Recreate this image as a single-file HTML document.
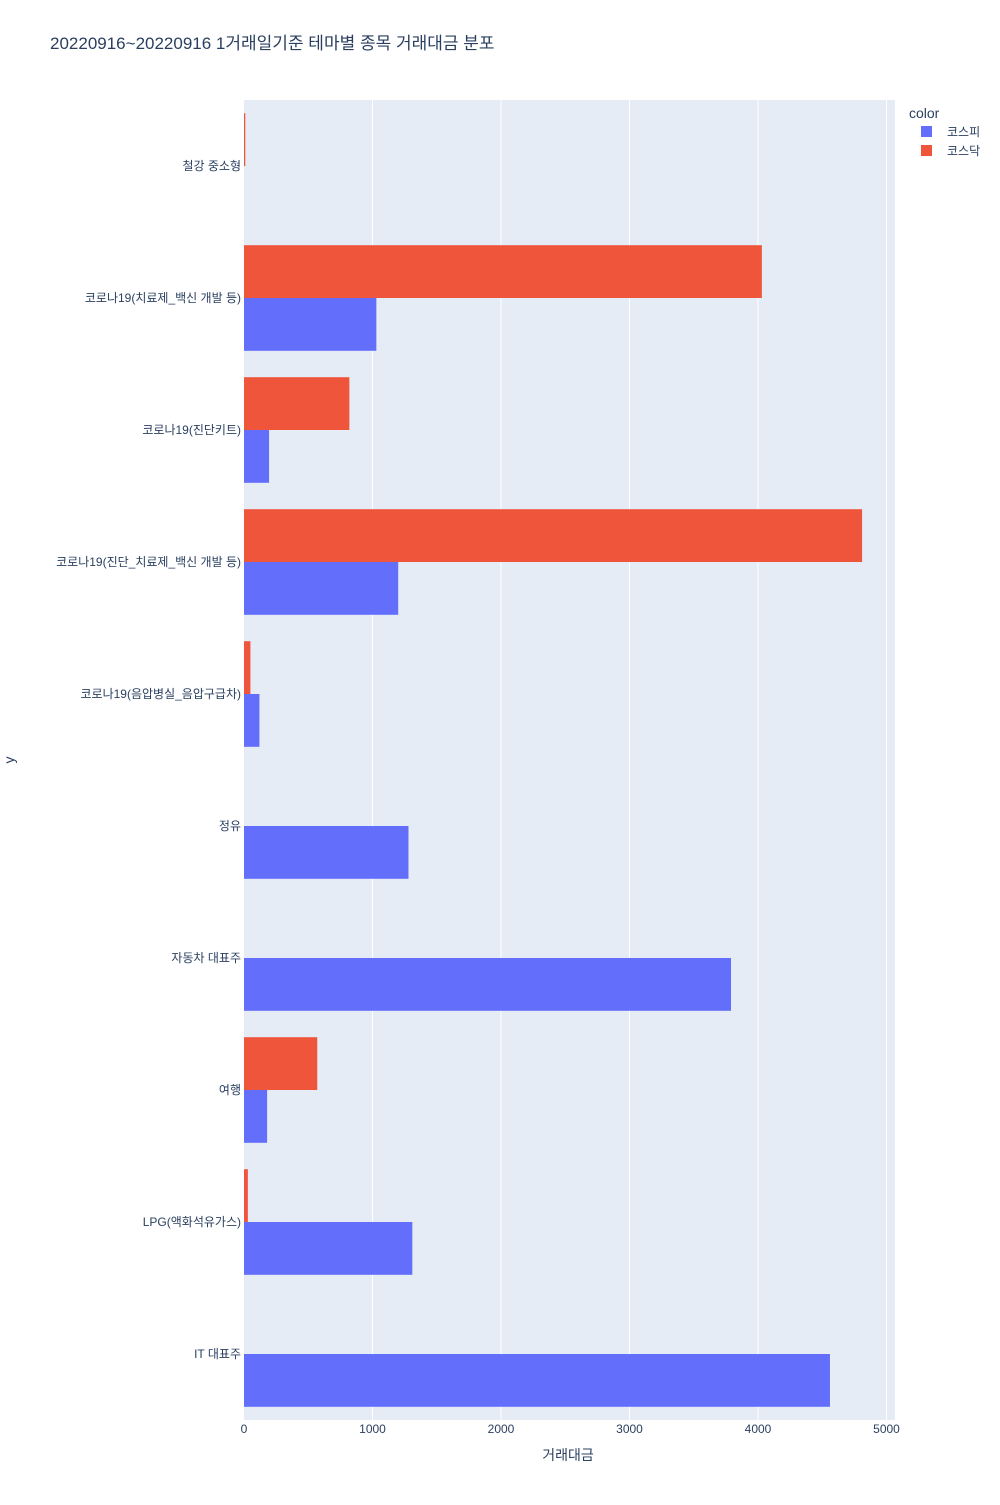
<!DOCTYPE html>
<html><head><meta charset="utf-8"><style>
body{margin:0;background:#fff;}
svg text{font-family:"Liberation Sans","Noto Sans CJK KR",sans-serif;fill:#2a3f5f;}
</style></head><body>
<svg id="chart" width="1000" height="1500">
<text x="50" y="49" font-size="17">20220916~20220916 1거래일기준 테마별 종목 거래대금 분포</text>
<rect x="244" y="100" width="651" height="1320" fill="#e5ecf6"/>
<g id="grid"></g><g id="bars"></g><g id="yticks"></g><g id="xticks"></g>
<text x="568" y="1460" font-size="14" text-anchor="middle">거래대금</text>
<text x="14" y="760" font-size="14" text-anchor="middle" transform="rotate(-90 14 760)">y</text>
<g>
<text x="909" y="118" font-size="14">color</text>
<g><rect x="921" y="126" width="11" height="11" fill="#636efa"/><text x="947" y="136" font-size="12">코스피</text></g>
<g><rect x="921" y="145" width="11" height="11" fill="#ef553b"/><text x="947" y="155" font-size="12">코스닥</text></g>
</g>
</svg>
<script>
const categories=["철강 중소형","코로나19(치료제_백신 개발 등)","코로나19(진단키트)","코로나19(진단_치료제_백신 개발 등)","코로나19(음압병실_음압구급차)","정유","자동차 대표주","여행","LPG(액화석유가스)","IT 대표주"];
const kospi=[0,1030,195,1200,120,1280,3790,180,1310,4560];
const kosdaq=[10,4030,820,4810,50,0,0,570,30,0];
const xTicks=[0,1000,2000,3000,4000,5000];
const NS="http://www.w3.org/2000/svg";
const x0=244,xScale=128.5/1000,y0=100,band=132,bw=52.8;
const X=v=>x0+v*xScale;
const Yc=i=>y0+band*i+band/2;
function mk(t,a,p){const e=document.createElementNS(NS,t);for(const k in a)e.setAttribute(k,a[k]);document.getElementById(p).appendChild(e);return e;}
xTicks.forEach(t=>{
 if(t>0){const l=mk('line',{x1:X(t),x2:X(t),y1:100,y2:1420,stroke:'#fff','stroke-width':1},'grid');
 
 }
 const tx=mk('text',{x:X(t),y:1433,'font-size':12,'text-anchor':'middle'},'xticks');tx.textContent=t;
 
 
});
categories.forEach((c,i)=>{
 const yc=Yc(i);
 const t=mk('text',{x:241,y:yc+4,'font-size':12,'text-anchor':'end'},'yticks');t.textContent=c;
 
 
 if(kosdaq[i]>0){const r=mk('rect',{x:x0,y:yc-bw,width:X(kosdaq[i])-x0,height:bw,fill:'#ef553b'},'bars');
 
 }
 if(kospi[i]>0){const r=mk('rect',{x:x0,y:yc,width:X(kospi[i])-x0,height:bw,fill:'#636efa'},'bars');
 
 }
});
</script>
</body></html>
